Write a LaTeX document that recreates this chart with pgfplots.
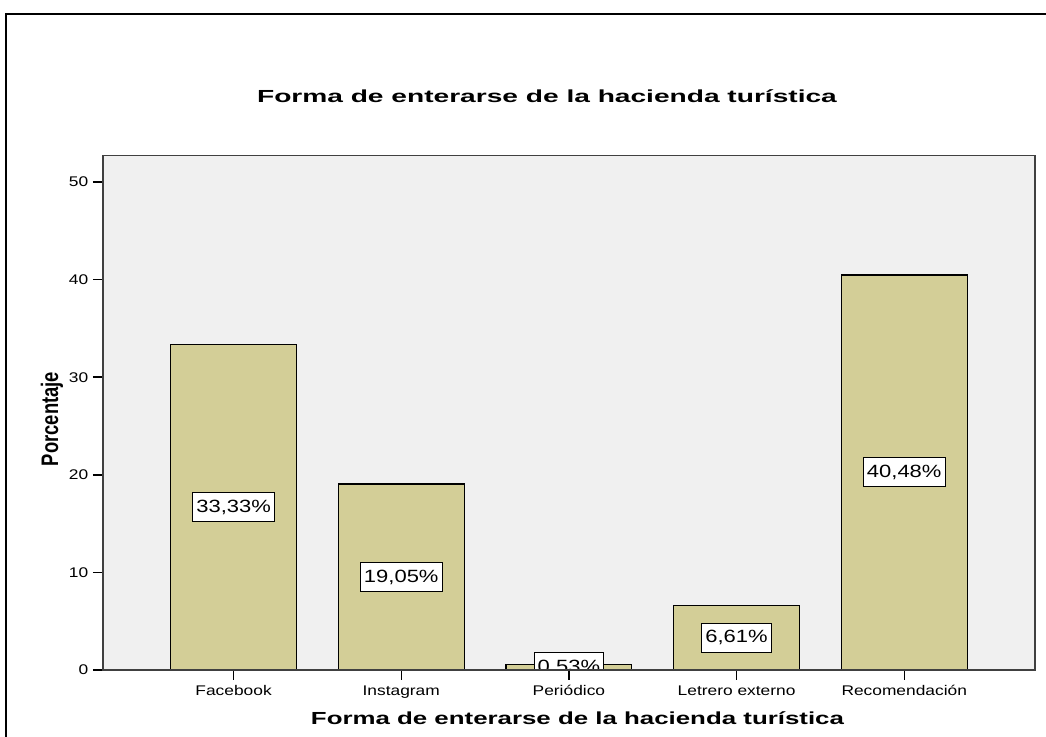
\documentclass[border=0pt]{standalone}
\usepackage{fontspec}
\setmainfont{Liberation Sans}
\newfontfamily\tickfont[FakeStretch=1.24]{Liberation Sans}
\newfontfamily\labfont[FakeStretch=1.24]{Liberation Sans}
\newfontfamily\titfont[FakeStretch=1.48]{Liberation Sans}
\newfontfamily\bigtitfont[FakeStretch=1.61]{Liberation Sans}
\usepackage{graphicx}
\usepackage{pgfplots}
\pgfplotsset{compat=1.18}
\usepackage{pgfplotstable}
\definecolor{barfill}{RGB}{211,206,151}
\definecolor{plotbg}{RGB}{240,240,240}

\pgfplotstableread{
x y
0 33.33
1 19.05
2 0.53
3 6.61
4 40.48
}\datatable

\begin{document}
\begin{tikzpicture}[x=1pt,y=1pt]
\useasboundingbox (0,0) rectangle (784.5,552.75);
\draw[line width=1.5pt] (4.5,0) -- (4.5,542.25) -- (784.5,542.25);
\begin{axis}[
 at={(77.25pt,50.25pt)}, anchor=south west,
 scale only axis, width=699pt, height=385.9pt,
 xmin=-0.779, xmax=4.78, ymin=0, ymax=52.72,
 axis background/.style={fill=plotbg},
 axis line style={draw=black!75, line width=1.1pt},
 tick pos=left, tick align=outside, major tick length=7.5pt,
 tick style={black, line width=1.1pt},
 xtick=data,
 xticklabels={Facebook,Instagram,Periódico,Letrero externo,Recomendación},
 ytick={0,10,20,30,40,50},
 /pgf/number format/assume math mode=true,
 ticklabel style={font=\tickfont\fontsize{10.5}{12}\selectfont},
 x tick label style={anchor=base, yshift=-11.75pt},
 axis on top,
 clip mode=individual,
 clip marker paths=true,
]
\addplot[ybar, bar width=0.75, fill=barfill, draw=black, line width=0.9pt] table[x=x,y=y]{\datatable};
\addplot[draw=none, mark=none,
  point meta=\thisrow{y},
  nodes near coords={\pgfmathprintnumber[fixed,fixed zerofill,precision=2,use comma]{\pgfplotspointmeta}\%},
  every node near coord/.style={anchor=center, draw=black, fill=white, text=black, line width=0.75pt,
     font=\labfont\fontsize{13.3}{15}\selectfont, inner xsep=2.8pt, inner ysep=0pt, minimum height=21.75pt}
  ] table[x=x, y expr=\thisrow{y}/2]{\datatable};
\end{axis}
\node[anchor=base, font=\bigtitfont\bfseries\fontsize{13.1}{15}\selectfont] at (410.25,475.5) {Forma de enterarse de la hacienda turística};
\node[anchor=base, font=\titfont\bfseries\fontsize{13.1}{15}\selectfont] at (433.1,9) {Forma de enterarse de la hacienda turística};
\node[rotate=90, font=\bfseries\fontsize{13.8}{15}\selectfont] at (39,238.5) {\scalebox{1}[1.3]{Porcentaje}};
\end{tikzpicture}
\end{document}
